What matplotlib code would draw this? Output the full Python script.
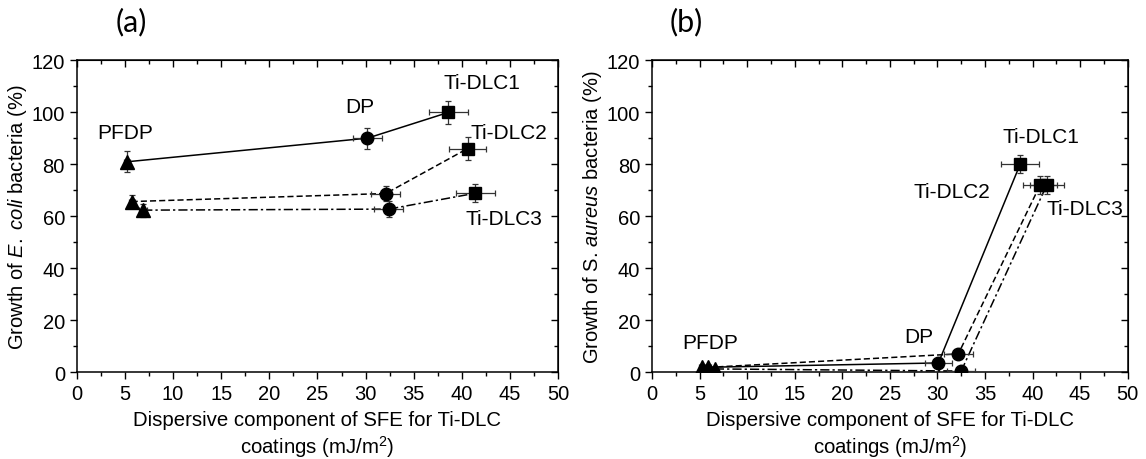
#!/usr/bin/env python3
"""Bacterial growth vs. dispersive SFE component for Ti-DLC coatings, panels (a) E. coli and (b) S. aureus."""

import matplotlib
matplotlib.use("Agg")
import matplotlib.pyplot as plt
from matplotlib.ticker import MultipleLocator

# ---------------------------------------------------------------------------
# Data
# ---------------------------------------------------------------------------
series_names = ["Ti-DLC1", "Ti-DLC2", "Ti-DLC3"]  # order: PFDP, DP, Ti-DLC point per series

# panel (a): E. coli
a_x = [[5.2, 30.2, 38.6], [5.7, 32.1, 40.6], [6.9, 32.4, 41.4]]
a_y = [[80.9, 90.0, 99.9], [65.6, 68.7, 86.0], [62.3, 62.7, 68.8]]
a_xerr = [[0.3, 1.5, 2.0], [0.3, 1.5, 1.9], [0.4, 1.5, 2.0]]
a_yerr = [[4.0, 4.0, 4.5], [2.5, 3.0, 4.5], [2.5, 3.0, 3.5]]

# panel (b): S. aureus
b_x = [[5.2, 30.1, 38.7], [5.9, 32.2, 40.8], [6.6, 32.5, 41.5]]
b_y = [[1.8, 3.5, 80.0], [1.8, 7.0, 72.0], [1.2, 0.4, 72.0]]
b_xerr = [[0.3, 1.4, 2.0], [0.3, 1.5, 1.8], [0.3, 1.5, 1.8]]
b_yerr = [[0.8, 1.0, 3.5], [0.8, 1.0, 3.5], [0.8, 1.0, 3.5]]

markers = ["^", "o", "s"]
styles = ["-", (0, (4, 2)), (0, (6, 2, 1.5, 2))]

plt.rcParams.update({
    "font.family": ["Liberation Sans", "DejaVu Sans"],
    "mathtext.fontset": "custom",
    "mathtext.rm": "Liberation Sans",
    "mathtext.it": "Liberation Sans:italic",
    "font.size": 14,
})

fig = plt.figure(figsize=(11.46, 4.60), dpi=100)
ax_a = fig.add_axes([0.067, 0.189, 0.420, 0.678])
ax_b = fig.add_axes([0.569, 0.189, 0.415, 0.678])


def draw_panel(ax, xs, ys, xerrs, yerrs):
    for i in range(3):
        ax.plot(xs[i], ys[i], color="black", linestyle=styles[i], linewidth=1.1, zorder=2)
        for j in range(3):
            ax.errorbar(xs[i][j], ys[i][j], xerr=xerrs[i][j], yerr=yerrs[i][j],
                        fmt=markers[j], color="black", markersize=9 if j else 9.5,
                        ecolor="#333333", elinewidth=0.9, capsize=2.5, capthick=0.9, zorder=3)


def setup_axes(ax, ylabel):
    ax.set_xlim(0, 50)
    ax.set_ylim(0, 120)
    ax.xaxis.set_major_locator(MultipleLocator(5))
    ax.xaxis.set_minor_locator(MultipleLocator(2.5))
    ax.yaxis.set_major_locator(MultipleLocator(20))
    ax.yaxis.set_minor_locator(MultipleLocator(10))
    ax.tick_params(which="major", direction="out", length=5, width=1.0, labelsize=14.5)
    ax.tick_params(which="minor", direction="out", length=3, width=1.0)
    for s in ax.spines.values():
        s.set_linewidth(1.1)
    # mirrored ticks pointing inward on top/right
    top = ax.secondary_xaxis("top")
    top.xaxis.set_major_locator(MultipleLocator(5))
    top.xaxis.set_minor_locator(MultipleLocator(2.5))
    top.tick_params(which="major", direction="in", length=5, width=1.0, labeltop=False)
    top.tick_params(which="minor", direction="in", length=3, width=1.0)
    right = ax.secondary_yaxis("right")
    right.yaxis.set_major_locator(MultipleLocator(20))
    right.yaxis.set_minor_locator(MultipleLocator(10))
    right.tick_params(which="major", direction="in", length=5, width=1.0, labelright=False)
    right.tick_params(which="minor", direction="in", length=3, width=1.0)
    ax.set_xlabel("Dispersive component of SFE for Ti-DLC\ncoatings (mJ/m$^2$)", fontsize=14.7, labelpad=5)
    ax.set_ylabel(ylabel, fontsize=14.5, labelpad=2)


draw_panel(ax_a, a_x, a_y, a_xerr, a_yerr)
setup_axes(ax_a, r"Growth of $\mathit{E.\ coli}$ bacteria (%)")
ax_a.text(5.0, 92, "PFDP", ha="center", va="center", fontsize=15)
ax_a.text(29.4, 102, "DP", ha="center", va="center", fontsize=15)
ax_a.text(38.1, 111.5, "Ti-DLC1", ha="left", va="center", fontsize=15)
ax_a.text(40.9, 92, "Ti-DLC2", ha="left", va="center", fontsize=15)
ax_a.text(40.4, 59, "Ti-DLC3", ha="left", va="center", fontsize=15)

draw_panel(ax_b, b_x, b_y, b_xerr, b_yerr)
setup_axes(ax_b, r"Growth of S. $\mathit{aureus}$ bacteria (%)")
ax_b.text(6.1, 11.5, "PFDP", ha="center", va="center", fontsize=15)
ax_b.text(28.0, 13.5, "DP", ha="center", va="center", fontsize=15)
ax_b.text(40.9, 90.8, "Ti-DLC1", ha="center", va="center", fontsize=15)
ax_b.text(31.5, 69.6, "Ti-DLC2", ha="center", va="center", fontsize=15)
ax_b.text(41.5, 63, "Ti-DLC3", ha="left", va="center", fontsize=15)

fig.text(131 / 1146, 1 - 22 / 460, "(a)", ha="center", va="center", fontsize=22, family=["Lato", "DejaVu Sans"])
fig.text(686 / 1146, 1 - 22 / 460, "(b)", ha="center", va="center", fontsize=22, family=["Lato", "DejaVu Sans"])

fig.savefig("out.png", dpi=100)
